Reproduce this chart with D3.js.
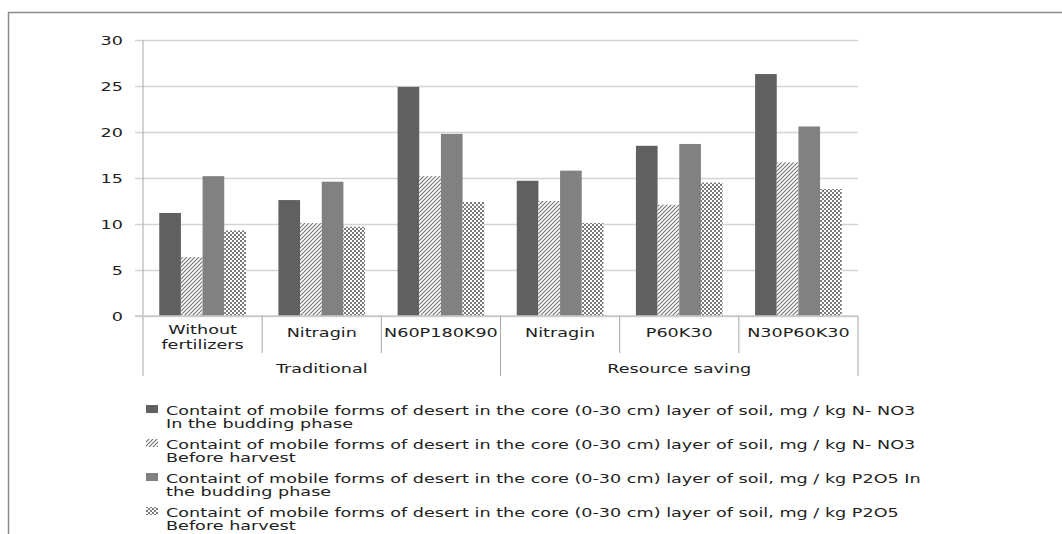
<!DOCTYPE html>
<html>
<head>
<meta charset="utf-8">
<script src="https://cdn.jsdelivr.net/npm/d3@7"></script>
<style>
  body { margin: 0; background: #fff; }
  svg text { font-family: "DejaVu Sans", Verdana, sans-serif; fill: #222; font-size: 12.5px; }
</style>
</head>
<body>
<div id="chart"></div>
<script>
// --------------------
// DATA
// --------------------
const groups = ["Traditional", "Resource saving"];
const categories = [
  ["Without", "fertilizers"],
  ["Nitragin"],
  ["N60P180K90"],
  ["Nitragin"],
  ["P60K30"],
  ["N30P60K30"]
];
const categoryGroup = [0, 0, 0, 1, 1, 1];

const nBudding = [11.2, 12.6, 24.9, 14.7, 18.5, 26.3];
const nHarvest = [6.4, 10.1, 15.2, 12.5, 12.1, 16.7];
const pBudding = [15.2, 14.6, 19.8, 15.8, 18.7, 20.6];
const pHarvest = [9.3, 9.7, 12.4, 10.1, 14.5, 13.8];

const yTicks = [0, 5, 10, 15, 20, 25, 30];

const legendLabels = [
  ["Containt of mobile forms of desert in the core (0-30 cm) layer of soil, mg / kg N- NO3", "In the budding phase"],
  ["Containt of mobile forms of desert in the core (0-30 cm) layer of soil, mg / kg N- NO3", "Before harvest"],
  ["Containt of mobile forms of desert in the core (0-30 cm) layer of soil, mg / kg P2O5 In", "the budding phase"],
  ["Containt of mobile forms of desert in the core (0-30 cm) layer of soil, mg / kg P2O5", "Before harvest"]
];

const seriesValues = [nBudding, nHarvest, pBudding, pHarvest];
const seriesFill = ["#606060", "url(#hatch)", "#818181", "url(#checker)"];

// --------------------
// CHART
// --------------------
const width = 1062;
const height = 534;
const plotLeft = 143, plotRight = 858, plotTop = 40, plotBottom = 316;
const stretch = 1.41; // text in the source is drawn wide

const svg = d3.select("#chart")
  .append("svg")
  .attr("width", width)
  .attr("height", height);

const defs = svg.append("defs");

// diagonal hatch
const hatch = defs.append("pattern")
  .attr("id", "hatch")
  .attr("patternUnits", "userSpaceOnUse")
  .attr("width", 4)
  .attr("height", 4);
hatch.append("rect").attr("width", 4).attr("height", 4).attr("fill", "#fff");
hatch.append("path")
  .attr("d", "M-1,1 l2,-2 M0,4 l4,-4 M3,5 l2,-2")
  .attr("stroke", "#727272")
  .attr("stroke-width", 1.1);

// small checker
const checker = defs.append("pattern")
  .attr("id", "checker")
  .attr("patternUnits", "userSpaceOnUse")
  .attr("width", 4)
  .attr("height", 4);
checker.append("rect").attr("width", 4).attr("height", 4).attr("fill", "#fff");
checker.append("rect").attr("width", 2).attr("height", 2).attr("fill", "#7a7a7a");
checker.append("rect").attr("x", 2).attr("y", 2).attr("width", 2).attr("height", 2).attr("fill", "#7a7a7a");

// frame (only top and left edges visible)
svg.append("path")
  .attr("d", `M8.5,${height} V12.5 H${width}`)
  .attr("fill", "none")
  .attr("stroke", "#8a8a8a")
  .attr("stroke-width", 1.5);

const x = d3.scaleBand()
  .domain(d3.range(categories.length))
  .range([plotLeft, plotRight]);

const xs = d3.scaleBand()
  .domain(d3.range(seriesValues.length))
  .range([0, x.bandwidth()])
  .paddingInner(0)
  .paddingOuter(0.75);

const y = d3.scaleLinear()
  .domain([0, 30])
  .range([plotBottom, plotTop]);

// wide text helper
function wideText(g, tx, ty, lines, anchor, lineGap) {
  const t = g.append("text")
    .attr("transform", `translate(${tx},${ty}) scale(${stretch},1)`)
    .attr("text-anchor", anchor);
  lines.forEach((ln, k) => {
    t.append("tspan")
      .attr("x", 0)
      .attr("dy", k === 0 ? 0 : lineGap)
      .text(ln);
  });
  return t;
}

// gridlines + y axis labels
const yAxis = svg.append("g")
  .attr("transform", `translate(${plotLeft},0)`)
  .call(d3.axisLeft(y)
    .tickValues(yTicks)
    .tickSize(-(plotRight - plotLeft))
    .tickFormat(d3.format("d")));
yAxis.select(".domain").remove();
yAxis.selectAll(".tick line")
  .attr("x1", -8)
  .attr("stroke", "#d4d4d4")
  .attr("stroke-width", 1.3);
yAxis.selectAll(".tick text")
  .attr("x", null)
  .attr("transform", `translate(-20,0) scale(${stretch},1)`)
  .attr("fill", "#222")
  .style("font-size", "12.5px")
  .style("font-family", "DejaVu Sans");

// bars
seriesValues.forEach((vals, s) => {
  svg.append("g")
    .selectAll("rect")
    .data(vals)
    .join("rect")
    .attr("x", (d, i) => x(i) + xs(s))
    .attr("y", d => y(d))
    .attr("width", xs.bandwidth())
    .attr("height", d => y(0) - y(d))
    .attr("fill", seriesFill[s]);
});

// y axis line
svg.append("line")
  .attr("x1", plotLeft).attr("x2", plotLeft)
  .attr("y1", plotTop).attr("y2", 376)
  .attr("stroke", "#a8a8a8");

// x baseline
svg.append("line")
  .attr("x1", plotLeft - 8).attr("x2", plotRight)
  .attr("y1", plotBottom).attr("y2", plotBottom)
  .attr("stroke", "#c8c8c8")
  .attr("stroke-width", 1.3);

// category separators
const catAxis = svg.append("g");
d3.range(1, categories.length).forEach(i => {
  const newGroup = categoryGroup[i] !== categoryGroup[i - 1];
  catAxis.append("line")
    .attr("x1", x(i)).attr("x2", x(i))
    .attr("y1", plotBottom).attr("y2", newGroup ? 376 : 353)
    .attr("stroke", "#a8a8a8");
});
catAxis.append("line")
  .attr("x1", plotRight).attr("x2", plotRight)
  .attr("y1", plotBottom).attr("y2", 376)
  .attr("stroke", "#a8a8a8");

// category labels
categories.forEach((lines, i) => {
  wideText(catAxis, x(i) + x.bandwidth() / 2, lines.length > 1 ? 334 : 337,
    lines, "middle", 15);
});

// group labels
groups.forEach((g, gi) => {
  const idx = categoryGroup.map((c, i) => c === gi ? i : -1).filter(i => i >= 0);
  const x0 = x(idx[0]);
  const x1 = x(idx[idx.length - 1]) + x.bandwidth();
  wideText(catAxis, (x0 + x1) / 2, 373, [g], "middle", 0);
});

// legend
const legend = svg.append("g");
legendLabels.forEach((lines, i) => {
  const ly = 410 + i * 34;
  legend.append("rect")
    .attr("x", 146)
    .attr("y", ly - 5)
    .attr("width", 12)
    .attr("height", 8)
    .attr("fill", seriesFill[i]);
  wideText(legend, 166, ly + 4.5, lines, "start", 13.5);
});
</script>
</body>
</html>
